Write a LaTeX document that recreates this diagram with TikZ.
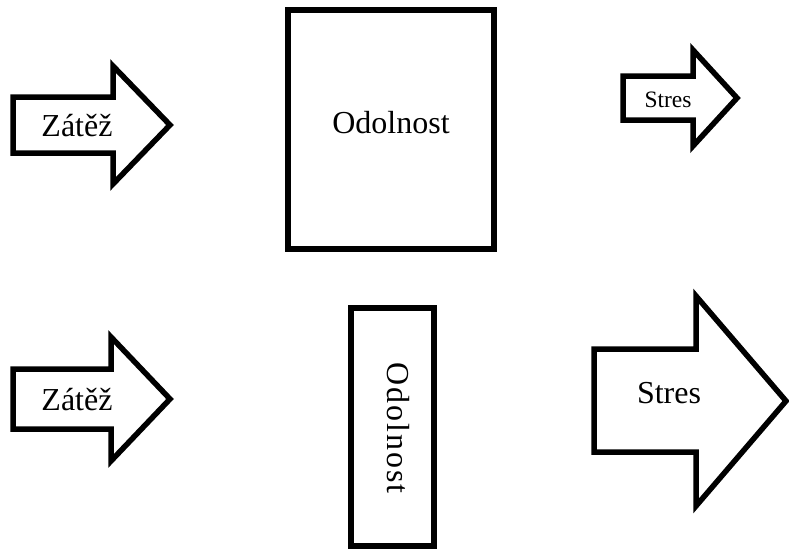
\documentclass[tikz,border=0pt]{standalone}
\usepackage{fontspec}
\setmainfont{Liberation Serif}
\tikzset{
  shp/.style={draw=black, line width=5.5pt, line join=miter, fill=white},
  lbl/.style={inner sep=0pt, anchor=base, font=\fontsize{32}{38}\selectfont},
  lblsmall/.style={inner sep=0pt, anchor=base, font=\fontsize{23.5}{28}\selectfont},
}
\begin{document}
\begin{tikzpicture}[x=1pt,y=-1pt]
\useasboundingbox (0,0) rectangle (789,549);
% top-left arrow
\draw[shp] (13,97) -- (113,97) -- (113,66) -- (170,125) -- (113,184) -- (113,153) -- (13,153) -- cycle;
\node[lbl] (z1) at (77,136) {Zátěž};
% top box
\node[shp, minimum width=206pt, minimum height=239pt, inner sep=0pt] (b1) at (391,129.5) {};
\node[lbl] (o1) at (391,133) {Odolnost};
% top-right arrow
\draw[shp] (623,76) -- (693,76) -- (693,50) -- (737,98) -- (693,146) -- (693,120) -- (623,120) -- cycle;
\node[lblsmall] (s1) at (668,107) {Stres};
% bottom-left arrow
\draw[shp] (13,369) -- (111,369) -- (111,337) -- (170,399) -- (111,461) -- (111,429) -- (13,429) -- cycle;
\node[lbl] (z2) at (77,410) {Zátěž};
% bottom box
\node[shp, minimum width=83pt, minimum height=238pt, inner sep=0pt] (b2) at (392.5,427) {};
\node[inner sep=0pt, rotate=-90, font=\fontsize{32}{38}\selectfont\addfontfeature{LetterSpace=6}] (o2) at (398,428) {Odolnost};
% bottom-right arrow
\draw[shp] (594,349) -- (696,349) -- (696,296) -- (786,401) -- (696,506) -- (696,452) -- (594,452) -- cycle;
\node[lbl] (s2) at (669,403) {Stres};
\end{tikzpicture}
\end{document}
